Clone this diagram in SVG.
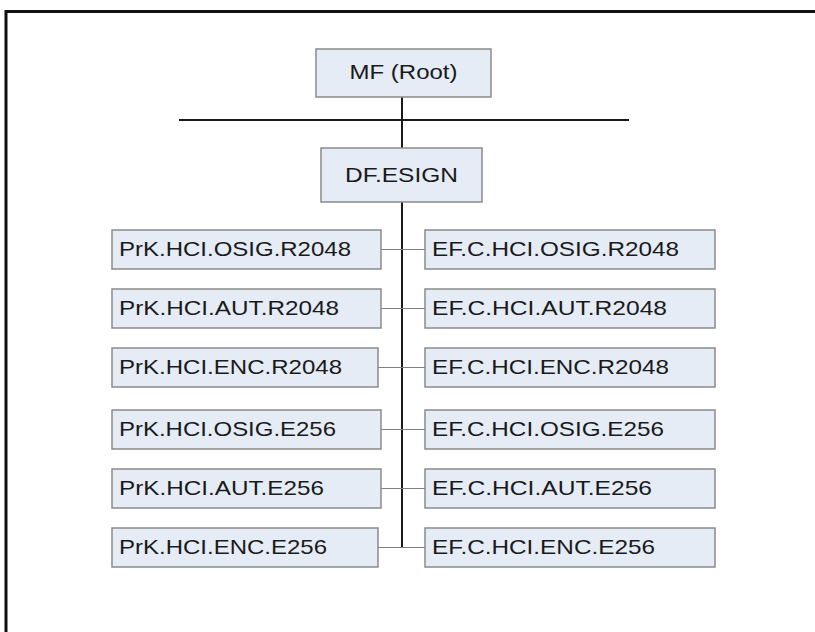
<svg xmlns="http://www.w3.org/2000/svg" width="815" height="632" viewBox="0 0 815 632">
<style>
.box{fill:#e5ecf6;stroke:#8a8a8a;stroke-width:1.5}
.t{font-family:"Liberation Sans",Arial,sans-serif;font-size:21px;fill:#1a1a1a}
.c{text-anchor:middle}
.trunk{stroke:#1a1a1a;stroke-width:2;fill:none}
.br{stroke:#808080;stroke-width:1.2;fill:none}
</style>
<rect x="0" y="0" width="815" height="632" fill="#ffffff"/>
<rect x="6" y="11.5" width="840" height="660" fill="none" stroke="#111" stroke-width="3"/>
<g id="connectors">
<line class="trunk" x1="402" y1="97" x2="402" y2="148"/>
<line class="trunk" x1="179" y1="120" x2="629" y2="120"/>
<line class="trunk" x1="402" y1="202" x2="402" y2="548"/>
<line class="br" x1="381" y1="249.5" x2="425" y2="249.5"/>
<line class="br" x1="381" y1="308.5" x2="425" y2="308.5"/>
<line class="br" x1="378" y1="367.5" x2="425" y2="367.5"/>
<line class="br" x1="381" y1="429.5" x2="425" y2="429.5"/>
<line class="br" x1="381" y1="488.5" x2="425" y2="488.5"/>
<line class="br" x1="378" y1="547.5" x2="425" y2="547.5"/>
</g>
<g id="mf"><rect class="box" x="316" y="49" width="175" height="48"/><text class="t c" x="403.5" y="79" textLength="108" lengthAdjust="spacingAndGlyphs">MF (Root)</text></g>
<g id="df"><rect class="box" x="321" y="148" width="161" height="54"/><text class="t c" x="401.5" y="182" textLength="113" lengthAdjust="spacingAndGlyphs">DF.ESIGN</text></g>
<g id="l1"><rect class="box" x="112" y="230" width="269" height="39"/><text class="t" x="119" y="256" textLength="232" lengthAdjust="spacingAndGlyphs">PrK.HCI.OSIG.R2048</text></g>
<g id="l2"><rect class="box" x="112" y="289" width="269" height="39"/><text class="t" x="119" y="315" textLength="220" lengthAdjust="spacingAndGlyphs">PrK.HCI.AUT.R2048</text></g>
<g id="l3"><rect class="box" x="112" y="348" width="266" height="39"/><text class="t" x="119" y="374" textLength="223" lengthAdjust="spacingAndGlyphs">PrK.HCI.ENC.R2048</text></g>
<g id="l4"><rect class="box" x="112" y="410" width="269" height="39"/><text class="t" x="119" y="436" textLength="217" lengthAdjust="spacingAndGlyphs">PrK.HCI.OSIG.E256</text></g>
<g id="l5"><rect class="box" x="112" y="469" width="269" height="39"/><text class="t" x="119" y="495" textLength="205" lengthAdjust="spacingAndGlyphs">PrK.HCI.AUT.E256</text></g>
<g id="l6"><rect class="box" x="112" y="528" width="266" height="39"/><text class="t" x="119" y="554" textLength="208" lengthAdjust="spacingAndGlyphs">PrK.HCI.ENC.E256</text></g>
<g id="r1"><rect class="box" x="425" y="230" width="290" height="39"/><text class="t" x="432" y="256" textLength="247" lengthAdjust="spacingAndGlyphs">EF.C.HCI.OSIG.R2048</text></g>
<g id="r2"><rect class="box" x="425" y="289" width="290" height="39"/><text class="t" x="432" y="315" textLength="235" lengthAdjust="spacingAndGlyphs">EF.C.HCI.AUT.R2048</text></g>
<g id="r3"><rect class="box" x="425" y="348" width="290" height="39"/><text class="t" x="432" y="374" textLength="237" lengthAdjust="spacingAndGlyphs">EF.C.HCI.ENC.R2048</text></g>
<g id="r4"><rect class="box" x="425" y="410" width="290" height="39"/><text class="t" x="432" y="436" textLength="232" lengthAdjust="spacingAndGlyphs">EF.C.HCI.OSIG.E256</text></g>
<g id="r5"><rect class="box" x="425" y="469" width="290" height="39"/><text class="t" x="432" y="495" textLength="220" lengthAdjust="spacingAndGlyphs">EF.C.HCI.AUT.E256</text></g>
<g id="r6"><rect class="box" x="425" y="528" width="290" height="39"/><text class="t" x="432" y="554" textLength="223" lengthAdjust="spacingAndGlyphs">EF.C.HCI.ENC.E256</text></g>
</svg>
